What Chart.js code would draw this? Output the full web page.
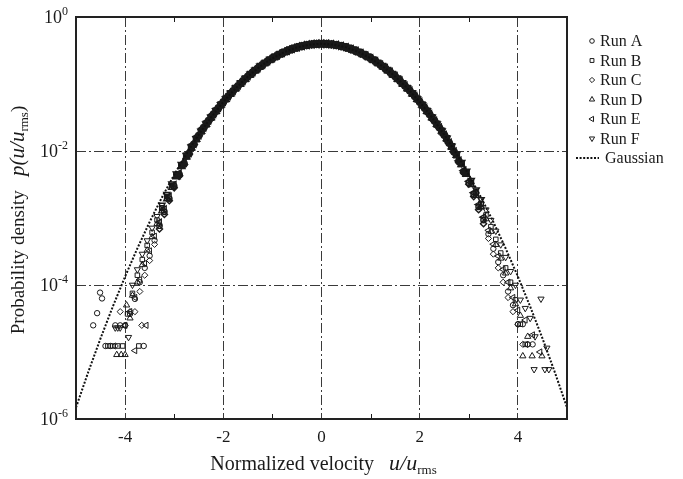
<!DOCTYPE html>
<html>
<head>
<meta charset="utf-8">
<script src="https://cdn.jsdelivr.net/npm/chart.js@4.4.1/dist/chart.umd.min.js"></script>
<style>
html,body{margin:0;padding:0;background:#ffffff;}
#wrap{width:683px;height:479px;position:relative;}
</style>
</head>
<body>
<div id="wrap"><canvas id="c" width="683" height="479"></canvas></div>
<script>
// ---------------- data ----------------
const seriesNames = ['Run A', 'Run B', 'Run C', 'Run D', 'Run E', 'Run F'];
const xTickValues = [-4, -2, 0, 2, 4];
const xMinorTicks = [-3, -1, 1, 3];
const yTickValues = [1e-6, 1e-4, 1e-2, 1];
const yTickExponents = ['-6', '-4', '-2', '0'];

// velocity bins (u/u_rms) of runs A, C, E
const binsACE = [-3.5,-3.4,-3.3,-3.2,-3.1,-3.0,-2.9,-2.8,-2.7,-2.6,-2.5,-2.4,-2.3,-2.2,-2.1,-2.0,-1.9,-1.8,-1.7,-1.6,-1.5,-1.4,-1.3,-1.2,-1.1,-1.0,-0.9,-0.8,-0.7,-0.6,-0.5,-0.4,-0.3,-0.2,-0.1,0,0.1,0.2,0.3,0.4,0.5,0.6,0.7,0.8,0.9,1.0,1.1,1.2,1.3,1.4,1.5,1.6,1.7,1.8,1.9,2.0,2.1,2.2,2.3,2.4,2.5,2.6,2.7,2.8,2.9,3.0,3.1,3.2,3.3,3.4,3.5];
// velocity bins of runs B, D, F
const binsBDF = [-3.45,-3.35,-3.25,-3.15,-3.05,-2.95,-2.85,-2.75,-2.65,-2.55,-2.45,-2.35,-2.25,-2.15,-2.05,-1.95,-1.85,-1.75,-1.65,-1.55,-1.45,-1.35,-1.25,-1.15,-1.05,-0.95,-0.85,-0.75,-0.65,-0.55,-0.45,-0.35,-0.25,-0.15,-0.05,0.05,0.15,0.25,0.35,0.45,0.55,0.65,0.75,0.85,0.95,1.05,1.15,1.25,1.35,1.45,1.55,1.65,1.75,1.85,1.95,2.05,2.15,2.25,2.35,2.45,2.55,2.65,2.75,2.85,2.95,3.05,3.15,3.25,3.35,3.45];

const runA = [0.000273,0.000465,0.000769,0.00124,0.00195,0.00299,0.00445,0.00647,0.00916,0.0126,0.0170,0.0223,0.0283,0.0355,0.0440,0.0540,0.0656,0.0790,0.0940,0.111,0.130,0.150,0.171,0.194,0.218,0.242,0.266,0.290,0.312,0.333,0.352,0.368,0.381,0.391,0.397,0.399,0.397,0.391,0.381,0.368,0.352,0.333,0.312,0.290,0.266,0.242,0.218,0.194,0.171,0.150,0.130,0.111,0.0940,0.0790,0.0656,0.0540,0.0440,0.0355,0.0283,0.0224,0.0174,0.0132,0.00973,0.00701,0.00492,0.00337,0.00225,0.00147,0.000931,0.000576,0.000348];
const runC = [0.000232,0.000404,0.000686,0.00113,0.00181,0.00282,0.00427,0.00629,0.00899,0.0125,0.0169,0.0222,0.0281,0.0353,0.0438,0.0537,0.0653,0.0787,0.0937,0.110,0.129,0.149,0.170,0.193,0.217,0.241,0.265,0.289,0.311,0.332,0.351,0.367,0.380,0.390,0.396,0.398,0.396,0.390,0.380,0.367,0.351,0.332,0.311,0.289,0.265,0.241,0.217,0.193,0.170,0.149,0.129,0.110,0.0937,0.0787,0.0653,0.0537,0.0438,0.0353,0.0281,0.0223,0.0173,0.0131,0.00960,0.00684,0.00474,0.00319,0.00209,0.00133,0.000823,0.000495,0.000289];
const runE = [0.000323,0.000534,0.000863,0.00136,0.00210,0.00316,0.00464,0.00666,0.00933,0.0128,0.0171,0.0224,0.0284,0.0357,0.0442,0.0543,0.0659,0.0794,0.0945,0.112,0.131,0.151,0.172,0.195,0.219,0.243,0.267,0.291,0.314,0.335,0.354,0.370,0.383,0.393,0.399,0.401,0.399,0.393,0.383,0.370,0.354,0.335,0.314,0.291,0.267,0.243,0.219,0.195,0.172,0.151,0.131,0.112,0.0945,0.0794,0.0659,0.0543,0.0442,0.0357,0.0284,0.0225,0.0174,0.0133,0.00984,0.00715,0.00508,0.00353,0.00239,0.00159,0.00103,0.000654,0.000406];
const runB = [0.000609,0.000935,0.00141,0.00209,0.00304,0.00434,0.00608,0.00838,0.01134,0.0151,0.0197,0.0252,0.0317,0.0396,0.0488,0.0596,0.0721,0.0863,0.102,0.120,0.139,0.160,0.183,0.206,0.230,0.254,0.278,0.301,0.323,0.343,0.361,0.375,0.387,0.394,0.398,0.398,0.394,0.387,0.375,0.361,0.343,0.323,0.301,0.278,0.254,0.230,0.206,0.183,0.160,0.139,0.120,0.102,0.0863,0.0721,0.0596,0.0488,0.0396,0.0317,0.0252,0.0198,0.0154,0.01168,0.00876,0.00646,0.00469,0.00335,0.00235,0.00163,0.00111,0.000742];
const runD = [0.000523,0.000824,0.00127,0.00192,0.00285,0.00413,0.00588,0.00819,0.01118,0.0150,0.0196,0.0250,0.0315,0.0393,0.0485,0.0592,0.0716,0.0857,0.101,0.119,0.138,0.159,0.182,0.205,0.228,0.252,0.276,0.299,0.321,0.341,0.358,0.372,0.384,0.391,0.395,0.395,0.391,0.384,0.372,0.358,0.341,0.321,0.299,0.276,0.252,0.228,0.205,0.182,0.159,0.138,0.119,0.101,0.0857,0.0716,0.0592,0.0485,0.0393,0.0315,0.0250,0.0198,0.0153,0.01158,0.00860,0.00627,0.00448,0.00314,0.00216,0.00146,0.000967,0.000628];
const runF = [0.000710,0.00106,0.00156,0.00227,0.00324,0.00455,0.00630,0.00858,0.0115,0.0152,0.0198,0.0254,0.0319,0.0399,0.0491,0.0600,0.0726,0.0869,0.103,0.121,0.140,0.161,0.184,0.207,0.232,0.256,0.280,0.303,0.325,0.345,0.364,0.378,0.390,0.397,0.401,0.401,0.397,0.390,0.378,0.364,0.345,0.325,0.303,0.280,0.256,0.232,0.207,0.184,0.161,0.140,0.121,0.103,0.0869,0.0726,0.0600,0.0491,0.0399,0.0319,0.0254,0.0199,0.0155,0.01183,0.00898,0.00673,0.00499,0.00365,0.00264,0.00189,0.00133,0.000928];

// sparse far-tail bins (|u/u_rms| > 3.5)
const tailA_x = [-4.65,-4.57,-4.51,-4.47,-4.4,-4.3,-4.2,-4.1,-4.0,-3.9,-3.8,-3.7,-3.62,-3.6,3.6,3.7,3.8,3.9,4.0,4.1,4.2,4.3];
const tailA_y = [2.5e-5,3.8e-5,7.7e-5,6.3e-5,1.23e-5,1.23e-5,2.5e-5,2.5e-5,2.5e-5,3.7e-5,6.2e-5,1.1e-4,1.23e-5,1.8e-4,2.2e-4,1.4e-4,8.0e-5,5.0e-5,2.6e-5,2.6e-5,1.3e-5,1.3e-5];
const tailB_x = [-4.35,-4.25,-4.15,-4.05,-3.95,-3.85,-3.75,-3.72,-3.65,-3.55,3.55,3.65,3.75,3.85,3.95,4.05,4.15];
const tailB_y = [1.23e-5,1.23e-5,1.23e-5,1.23e-5,3.7e-5,7.5e-5,1.4e-4,1.23e-5,2.4e-4,3.9e-4,4.8e-4,3.0e-4,1.8e-4,1.1e-4,6.0e-5,2.6e-5,1.3e-5];
const tailC_x = [-4.2,-4.1,-4.0,-3.9,-3.8,-3.7,-3.66,-3.6,3.6,3.7,3.8,3.9,4.0,4.1,4.2];
const tailC_y = [1.23e-5,4.0e-5,2.5e-5,4.0e-5,4.0e-5,8.0e-5,2.5e-5,1.4e-4,1.8e-4,1.1e-4,6.5e-5,4.0e-5,2.6e-5,1.3e-5,1.3e-5];
const tailD_x = [-4.17,-4.08,-4.0,-3.97,-3.9,-3.85,-3.75,-3.65,-3.55,3.55,3.65,3.75,3.85,3.95,4.05,4.1,4.2,4.29,4.49];
const tailD_y = [9.1e-6,9.1e-6,9.1e-6,5.0e-5,3.2e-5,7.0e-5,1.1e-4,2.0e-4,3.3e-4,4.0e-4,2.5e-4,1.5e-4,9.0e-5,5.2e-5,3.5e-5,8.7e-6,1.7e-5,8.7e-6,8.7e-6];
const tailE_x = [-4.0,-3.9,-3.8,-3.8,-3.7,-3.6,-3.57,3.6,3.7,3.8,3.9,4.0,4.15,4.3,4.45];
const tailE_y = [2.5e-5,4.0e-5,6.5e-5,1.05e-5,1.2e-4,2.1e-4,2.5e-5,2.7e-4,1.7e-4,1.1e-4,6.5e-5,4.2e-5,3.0e-5,1.8e-5,1.0e-5];
const tailF_x = [-4.2,-4.15,-4.1,-3.93,-3.85,-3.75,-3.65,-3.55,3.55,3.65,3.75,3.85,3.95,4.05,4.15,4.25,4.33,4.35,4.47,4.55,4.59,4.63];
const tailF_y = [2.3e-5,2.3e-5,2.3e-5,1.66e-5,1.0e-4,1.7e-4,2.9e-4,4.6e-4,6.4e-4,4.0e-4,2.6e-4,1.6e-4,1.0e-4,6.0e-5,4.5e-5,3.2e-5,5.5e-6,1.7e-5,6.2e-5,5.5e-6,1.15e-5,5.5e-6];

// Gaussian reference curve
const gaussX = [-5,-4.75,-4.5,-4.25,-4,-3.75,-3.5,-3.25,-3,-2.75,-2.5,-2.25,-2,-1.75,-1.5,-1.25,-1,-0.75,-0.5,-0.25,0,0.25,0.5,0.75,1,1.25,1.5,1.75,2,2.25,2.5,2.75,3,3.25,3.5,3.75,4,4.25,4.5,4.75,5];
const gaussY = [1.487e-6,5.03e-6,1.598e-5,4.77e-5,1.338e-4,3.526e-4,8.727e-4,2.029e-3,4.432e-3,9.094e-3,1.753e-2,3.174e-2,5.399e-2,8.628e-2,1.295e-1,1.826e-1,2.420e-1,3.011e-1,3.521e-1,3.867e-1,3.989e-1,3.867e-1,3.521e-1,3.011e-1,2.420e-1,1.826e-1,1.295e-1,8.628e-2,5.399e-2,3.174e-2,1.753e-2,9.094e-3,4.432e-3,2.029e-3,8.727e-4,3.526e-4,1.338e-4,4.77e-5,1.598e-5,5.03e-6,1.487e-6];

// ---------------- build ----------------
const FONT = "'Liberation Serif','Times New Roman',serif";
const INK = '#1a1a1a';
function pts(xs, ys) { return xs.map((x, i) => ({x: x, y: ys[i]})); }

const runDefs = [
  {bins: binsACE, vals: runA, tx: tailA_x, ty: tailA_y, style: 'circle', rot: 0, r: 2.7, core: 2.9},
  {bins: binsBDF, vals: runB, tx: tailB_x, ty: tailB_y, style: 'rect', rot: 0, r: 3.2, core: 3.6},
  {bins: binsACE, vals: runC, tx: tailC_x, ty: tailC_y, style: 'rectRot', rot: 0, r: 3.1, core: 3.2},
  {bins: binsBDF, vals: runD, tx: tailD_x, ty: tailD_y, style: 'triangle', rot: 0, r: 3.6, core: 3.4},
  {bins: binsACE, vals: runE, tx: tailE_x, ty: tailE_y, style: 'triangle', rot: -90, r: 3.6, core: 3.4},
  {bins: binsBDF, vals: runF, tx: tailF_x, ty: tailF_y, style: 'triangle', rot: 180, r: 3.6, core: 3.4}
];

// dense core of the distribution: overlapping marks merge into a solid band
function isCore(c) { return c.raw && Math.abs(c.raw.x) <= 2.95; }
function strokeFor(c) {
  const p = c.raw;
  if (!p) return 1;
  const ax = Math.abs(p.x);
  if (ax <= 2.95) return 2;
  if (ax <= 3.3) return 1.4;
  return 1;
}
function radiusFor(d) {
  return c => (isCore(c) ? d.core : d.r);
}

const datasets = runDefs.map((d, i) => ({
  label: seriesNames[i],
  data: pts(d.bins, d.vals).concat(pts(d.tx, d.ty)),
  showLine: false,
  pointStyle: d.style,
  rotation: d.rot,
  pointRadius: radiusFor(d),
  pointBorderWidth: strokeFor,
  pointBorderColor: INK,
  pointBackgroundColor: c => (isCore(c) ? INK : 'rgba(0,0,0,0)'),
  order: 2
}));
datasets.push({
  label: 'Gaussian',
  data: pts(gaussX, gaussY),
  showLine: true,
  pointRadius: 0,
  borderColor: '#111',
  borderWidth: 2,
  borderDash: [2, 1.6],
  tension: 0,
  fill: false,
  order: 1
});

function fontFor(s, size) {
  const sz = s.sub ? Math.round(size * 0.66) : (s.italic ? size + 2 : size);
  return (s.italic ? 'italic ' : '') + sz + 'px ' + FONT;
}
function richWidth(ctx, segs, size) {
  let t = 0;
  for (const s of segs) { ctx.font = fontFor(s, size); s.w = ctx.measureText(s.text).width; t += s.w; }
  return t;
}
function drawRich(ctx, segs, cx, baseY, size) {
  const total = richWidth(ctx, segs, size);
  let xx = cx - total / 2;
  ctx.textAlign = 'left';
  ctx.textBaseline = 'alphabetic';
  for (const s of segs) {
    ctx.font = fontFor(s, size);
    ctx.fillText(s.text, xx, baseY + (s.sub ? 4 : 0));
    xx += s.w;
  }
}

const decor = {
  id: 'decor',
  afterDraw(chart) {
    const {ctx, chartArea: a, scales} = chart;
    const xs = scales.x, ys = scales.y;
    ctx.save();
    // minor ticks (inward)
    ctx.strokeStyle = INK;
    ctx.lineWidth = 1;
    for (const v of xMinorTicks) {
      const px = Math.round(xs.getPixelForValue(v)) + 0.5;
      ctx.beginPath();
      ctx.moveTo(px, a.top); ctx.lineTo(px, a.top + 5);
      ctx.moveTo(px, a.bottom); ctx.lineTo(px, a.bottom - 5);
      ctx.stroke();
    }
    // frame
    ctx.lineWidth = 2;
    ctx.strokeStyle = '#222';
    ctx.strokeRect(a.left, a.top, a.right - a.left, a.bottom - a.top);

    // y tick labels 10^n
    ctx.fillStyle = INK;
    yTickValues.forEach((v, i) => {
      const py = ys.getPixelForValue(v);
      ctx.textAlign = 'right';
      ctx.textBaseline = 'alphabetic';
      ctx.font = '12px ' + FONT;
      const exp = yTickExponents[i];
      const w = ctx.measureText(exp).width;
      const right = a.left - 8;
      ctx.fillText(exp, right, py - 2);
      ctx.font = '18px ' + FONT;
      ctx.fillText('10', right - w, py + 6);
    });

    // x axis title
    ctx.fillStyle = INK;
    drawRich(ctx, [
      {text: 'Normalized velocity   '},
      {text: 'u/u', italic: true},
      {text: 'rms', sub: true}
    ], (a.left + a.right) / 2 + 2, 470, 20);

    // y axis title
    ctx.save();
    ctx.translate(24, (a.top + a.bottom) / 2 + 2);
    ctx.rotate(-Math.PI / 2);
    drawRich(ctx, [
      {text: 'Probability density   '},
      {text: 'p(u/u', italic: true},
      {text: 'rms', sub: true},
      {text: ')'}
    ], 0, 0, 19);
    ctx.restore();

    // legend
    const lx = 592, tx = 600, ly0 = 41, dy = 19.5;
    runDefs.forEach((d, i) => {
      const yy = ly0 + i * dy;
      ctx.strokeStyle = INK;
      ctx.fillStyle = 'rgba(0,0,0,0)';
      ctx.lineWidth = 1;
      Chart.helpers.drawPoint(ctx, {pointStyle: d.style, rotation: d.rot, radius: d.r * 0.85, borderWidth: 1}, lx, yy);
      ctx.fillStyle = INK;
      ctx.font = '16px ' + FONT;
      ctx.textAlign = 'left';
      ctx.textBaseline = 'middle';
      ctx.fillText(seriesNames[i], tx, yy + 1);
    });
    const gy = ly0 + 6 * dy;
    ctx.strokeStyle = '#111';
    ctx.lineWidth = 2;
    ctx.setLineDash([2, 1.6]);
    ctx.beginPath(); ctx.moveTo(576, gy); ctx.lineTo(599, gy); ctx.stroke();
    ctx.setLineDash([]);
    ctx.fillStyle = INK;
    ctx.font = '16px ' + FONT;
    ctx.textAlign = 'left';
    ctx.textBaseline = 'middle';
    ctx.fillText('Gaussian', 605, gy + 1);
    ctx.restore();
  }
};

new Chart(document.getElementById('c'), {
  type: 'scatter',
  data: {datasets: datasets},
  options: {
    responsive: false,
    animation: false,
    devicePixelRatio: 1,
    layout: {padding: {left: 0, top: 17, right: 116, bottom: 0}},
    plugins: {legend: {display: false}, tooltip: {enabled: false}},
    scales: {
      x: {
        type: 'linear',
        min: -5, max: 5,
        afterFit: s => { s.height = 60; },
        ticks: {
          stepSize: 1, autoSkip: false, maxRotation: 0, padding: 8,
          color: INK,
          font: {family: FONT, size: 17},
          callback: v => (xTickValues.includes(v) ? String(v) : '')
        },
        grid: {
          drawTicks: false,
          lineWidth: 1,
          color: c => (xTickValues.includes(c.tick && c.tick.value) ? '#3a3a3a' : 'rgba(0,0,0,0)')
        },
        border: {display: false, dash: [10, 3, 2, 3]}
      },
      y: {
        type: 'logarithmic',
        min: 1e-6, max: 1,
        afterFit: s => { s.width = 76; },
        afterBuildTicks: s => { s.ticks = yTickValues.map(v => ({value: v})); },
        ticks: {display: false},
        grid: {
          drawTicks: false,
          lineWidth: 1,
          color: c => ((c.tick && (c.tick.value === 1e-2 || c.tick.value === 1e-4)) ? '#3a3a3a' : 'rgba(0,0,0,0)')
        },
        border: {display: false, dash: [10, 3, 2, 3]}
      }
    }
  },
  plugins: [decor]
});
</script>
</body>
</html>
